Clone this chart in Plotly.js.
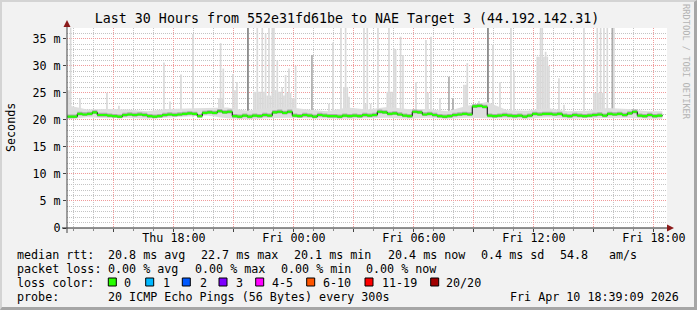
<!DOCTYPE html>
<html><head><meta charset="utf-8">
<script src="https://cdn.plot.ly/plotly-3.0.1.min.js"></script>
<style>
html,body{margin:0;padding:0;background:#f2f2f2;}
#wrap{position:relative;width:697px;height:310px;overflow:hidden;background:#f2f2f2;}
#chart{position:absolute;left:0;top:0;width:697px;height:310px;}
#frame{position:absolute;left:0;top:0;width:697px;height:310px;box-sizing:border-box;border-top:2px solid #d4d4d4;border-left:2px solid #d4d4d4;border-right:3px solid #a6a6a6;border-bottom:3px solid #a6a6a6;pointer-events:none;}
</style></head>
<body><div id="wrap"><div id="chart"></div><div id="frame"></div></div>
<script>
// ---------------- data ----------------
const titleText = 'Last 30 Hours from 552e31fd61be to NAE Target 3 (44.192.142.31)';
const rangeStart = '2026-04-09 12:39:09';
const rangeEnd = '2026-04-10 18:39:09';
const medianStart = '2026-04-09T12:40:00';
const medianStepMin = 15;
const medianRtt = [
 20.6,20.6,21.1,21.0,21.1,21.4,20.9,20.9,20.8,20.7,
 20.6,20.9,21.0,20.9,21.0,20.9,20.7,20.6,20.7,20.9,
 21.0,20.9,21.0,21.1,21.2,21.1,20.7,21.3,21.4,21.3,
 21.6,21.4,21.5,20.7,20.6,20.8,20.6,20.8,20.7,20.9,
 20.8,21.4,21.5,21.3,21.5,20.8,20.7,20.9,20.8,20.6,
 20.9,20.8,20.7,20.7,20.6,20.8,20.7,20.8,20.7,20.9,
 20.8,20.9,21.5,21.4,21.1,21.2,21.0,20.8,20.7,21.5,
 21.4,21.0,21.1,20.9,20.7,20.6,20.7,20.9,21.0,21.1,
 21.0,22.5,22.6,22.4,20.8,20.7,20.8,20.9,20.8,20.7,
 20.8,20.6,20.8,21.1,21.0,21.1,21.1,21.0,21.1,20.8,
 20.7,20.9,20.8,20.7,20.8,20.9,21.0,20.8,21.1,21.0,
 21.1,20.9,21.2,21.5,20.8,20.7,20.9,20.7,20.8,20.7
];
// hourly envelope of the ordinary smoke (lowest ping / upper edge of the fuzz)
const smokeTimes = [
 '2026-04-09 12:40','2026-04-09 13:40','2026-04-09 14:40','2026-04-09 15:40','2026-04-09 16:40',
 '2026-04-09 17:40','2026-04-09 18:40','2026-04-09 19:40','2026-04-09 20:40','2026-04-09 21:40',
 '2026-04-09 22:40','2026-04-09 23:40','2026-04-10 00:40','2026-04-10 01:40','2026-04-10 02:40',
 '2026-04-10 03:40','2026-04-10 04:40','2026-04-10 05:40','2026-04-10 06:40','2026-04-10 07:40',
 '2026-04-10 08:40','2026-04-10 09:40','2026-04-10 10:40','2026-04-10 11:40','2026-04-10 12:40',
 '2026-04-10 13:40','2026-04-10 14:40','2026-04-10 15:40','2026-04-10 16:40','2026-04-10 17:40',
 '2026-04-10 18:25'
];
const smokeLow = [20.1,20.5,20.3,20.4,20.2,20.4,20.6,20.8,20.3,20.1,20.3,20.4,20.3,20.2,20.2,
 20.3,20.4,20.2,20.4,20.2,20.4,20.3,20.3,20.2,20.5,20.2,20.3,20.4,20.4,20.2,20.2];
const smokeHigh = [22.7,21.9,22.0,21.9,21.6,22.0,22.1,22.2,22.3,21.7,22.2,22.4,21.9,21.6,22.3,
 21.9,22.4,22.0,22.0,21.6,22.6,23.3,21.8,21.7,22.2,21.6,21.7,22.2,22.0,21.6,21.6];
// individual high pings (smoke spikes)
const spikeTimes = [
 '2026-04-09 12:40','2026-04-09 12:45','2026-04-09 12:50','2026-04-09 13:18','2026-04-09 14:39',
 '2026-04-09 15:15','2026-04-09 17:30','2026-04-09 17:48','2026-04-09 18:21','2026-04-09 18:57',
 '2026-04-09 20:15','2026-04-09 20:20','2026-04-09 20:25','2026-04-09 20:28','2026-04-09 20:57',
 '2026-04-09 21:03','2026-04-09 21:09','2026-04-09 21:42','2026-04-09 22:00','2026-04-09 22:05',
 '2026-04-09 22:10','2026-04-09 22:15','2026-04-09 22:20','2026-04-09 22:25','2026-04-09 22:30',
 '2026-04-09 22:35','2026-04-09 22:40','2026-04-09 22:45','2026-04-09 22:50','2026-04-09 22:55',
 '2026-04-09 23:00','2026-04-09 23:05','2026-04-09 23:10','2026-04-09 23:15','2026-04-09 23:20',
 '2026-04-09 23:25','2026-04-09 23:30','2026-04-09 23:35','2026-04-09 23:40','2026-04-09 23:45',
 '2026-04-09 23:50','2026-04-09 23:55','2026-04-10 00:00','2026-04-10 00:05','2026-04-10 00:54',
 '2026-04-10 01:45','2026-04-10 01:57','2026-04-10 02:21','2026-04-10 02:30','2026-04-10 02:35',
 '2026-04-10 02:40','2026-04-10 02:45','2026-04-10 03:30','2026-04-10 03:35','2026-04-10 03:40',
 '2026-04-10 03:50','2026-04-10 04:12','2026-04-10 04:40','2026-04-10 04:45','2026-04-10 04:50',
 '2026-04-10 04:55','2026-04-10 05:00','2026-04-10 05:05','2026-04-10 05:20','2026-04-10 05:27',
 '2026-04-10 06:06','2026-04-10 06:36','2026-04-10 06:42','2026-04-10 06:51','2026-04-10 07:18',
 '2026-04-10 07:45','2026-04-10 07:57','2026-04-10 08:30','2026-04-10 08:36','2026-04-10 08:40',
 '2026-04-10 09:15','2026-04-10 09:42','2026-04-10 09:57','2026-04-10 10:18','2026-04-10 10:51',
 '2026-04-10 11:00','2026-04-10 12:10','2026-04-10 12:15','2026-04-10 12:20','2026-04-10 12:25',
 '2026-04-10 12:30','2026-04-10 12:35','2026-04-10 12:40','2026-04-10 12:45','2026-04-10 13:15',
 '2026-04-10 13:30','2026-04-10 14:30','2026-04-10 15:00','2026-04-10 15:05','2026-04-10 15:10',
 '2026-04-10 15:15','2026-04-10 15:20','2026-04-10 15:25','2026-04-10 15:30','2026-04-10 15:40',
 '2026-04-10 15:55','2026-04-10 16:00','2026-04-10 16:54'
];
const spikeMax = [
 25.5,25.5,38,23.9,25.0, 22.6,30.6,23.4,28.4,35.9,
 24.0,34.2,24.0,29.5,28.5, 25.5,27.0,38,25.2,25.2,
 38,25.2,25.2,38,25.2, 36,24.5,38,24.5,38,
 37.5,25.5,31,25.2,25.2, 26,24.5,28.3,25,29.5,
 25,24,24,30,32, 23,34.3,38,26.1,38,
 26.1,24.3,38,23,38, 23,38,25.2,38,25.2,
 25.2,33.2,33,35.4,32, 27,34.8,25,35.4,24,
 28,24,26.5,26.5,30.5, 23.5,38,33.9,27,38,
 29,31.7,31.7,38,38, 31.7,32.6,31.7,30,27.7,
 22.8,38,25,25,38, 25,38,25,38,38,
 38,37,21.9
];
const spikeShade = [
 'l','l','l','l','l', 'l','l','l','l','l',
 'l','l','l','l','l', 'l','l','d','l','l',
 'l','l','l','l','l', 'l','l','l','l','l',
 'l','l','l','l','l', 'l','l','l','l','l',
 'l','l','l','l','m', 'l','l','l','l','l',
 'l','l','l','l','l', 'l','l','l','l','l',
 'l','l','l','l','l', 'l','l','l','l','l',
 'm','m','l','l','l', 'l','d','l','l','l',
 'l','l','l','l','l', 'l','l','l','l','l',
 'l','l','l','l','l', 'l','l','l','l','l',
 'm','l','d'
];
const xTickVals = ['2026-04-09 15:00','2026-04-09 18:00','2026-04-09 21:00','2026-04-10 00:00',
 '2026-04-10 03:00','2026-04-10 06:00','2026-04-10 09:00','2026-04-10 12:00','2026-04-10 15:00','2026-04-10 18:00'];
const xTickText = ['','Thu 18:00','','Fri 00:00','','Fri 06:00','','Fri 12:00','','Fri 18:00'];
const yTickVals = [0,5,10,15,20,25,30,35];
const yTickText = ['0','5 m','10 m','15 m','20 m','25 m','30 m','35 m'];
const statLine1 = [['median rtt:',16],['20.8 ms avg',107],['22.7 ms max',200],['20.1 ms min',293],
 ['20.4 ms now',386.7],['0.4 ms sd',479.3],['54.8',558.3],['am/s',607.7]];
const statLine2 = [['packet loss:',16],['0.00 % avg',107],['0.00 % max',193.3],['0.00 % min',279.3],['0.00 % now',365]];
const lossLabels = ['0','1','2','3','4-5','6-10','11-19','20/20'];
const lossColors = ['#26ff00','#00b8ff','#0059ff','#7e00ff','#ff00ff','#ff5500','#ff0000','#a10000'];
const lossBoxX = [108.3,145.7,182.3,219,255.7,306.7,365,430.7];
const lossTextX = [123,161.7,199,235,271,321.7,380.7,445];
const probeText = '20 ICMP Echo Pings (56 Bytes) every 300s';
const stampText = 'Fri Apr 10 18:39:09 2026';
const creditText = 'RRDTOOL / TOBI OETIKER';

// ---------------- build ----------------
const L=67, R=667, T=28, B=228;
const px = x => (x-L)/(R-L);
const py = y => (B-y)/(B-T);
const FONT = 'DejaVu Sans Mono, monospace';

const t0 = new Date(medianStart+'Z').getTime();
const fmt = ms => new Date(ms).toISOString().slice(0,19).replace('T',' ');
const medianTimes = medianRtt.map((_,i)=>fmt(t0 + i*medianStepMin*60000));

const shadeColor = {l:'#d9d9d9', m:'#ababab', d:'#808080'};
const spikeBase = 20.5;

const traces = [
 {type:'bar', x:spikeTimes, y:spikeMax.map(v=>v-spikeBase), base:spikeBase, width:300000,
  marker:{color:spikeShade.map(s=>shadeColor[s]), line:{width:0}}, hoverinfo:'skip'},
 {type:'scatter', mode:'lines', x:smokeTimes, y:smokeLow, line:{width:0,color:'rgba(0,0,0,0)'}, hoverinfo:'skip'},
 {type:'scatter', mode:'lines', x:smokeTimes, y:smokeHigh, fill:'tonexty', fillcolor:'#dedede', line:{width:0,color:'rgba(0,0,0,0)'}, hoverinfo:'skip'},
 {type:'scatter', mode:'lines', x:medianTimes, y:medianRtt.map(v=>v-0.3), line:{width:0,shape:'hv',color:'rgba(0,0,0,0)'}, hoverinfo:'skip'},
 {type:'scatter', mode:'lines', x:medianTimes, y:medianRtt.map(v=>v+0.4), fill:'tonexty', fillcolor:'#ababab', line:{width:0,shape:'hv',color:'rgba(0,0,0,0)'}, hoverinfo:'skip'},
 {type:'scatter', mode:'lines', x:medianTimes, y:medianRtt, line:{width:1,shape:'hv',color:'#000'}, hoverinfo:'skip'},
 {type:'scatter', mode:'lines', x:medianTimes, y:medianRtt.map(v=>v-0.2), line:{width:0,shape:'hv',color:'rgba(0,0,0,0)'}, hoverinfo:'skip'},
 {type:'scatter', mode:'lines', x:medianTimes, y:medianRtt.map(v=>v+0.2), fill:'tonexty', fillcolor:lossColors[0], line:{width:0,shape:'hv',color:'rgba(0,0,0,0)'}, hoverinfo:'skip'}
];

const ann = [];
const txt = (s,x,y,extra) => ann.push(Object.assign({text:s.replace(/ /g,'\u00a0'), xref:'paper', yref:'paper', x:px(x), y:py(y),
  xanchor:'left', yanchor:'middle', showarrow:false, font:{family:FONT,size:11.7,color:'#000'}}, extra||{}));
statLine1.forEach(([s,x])=>txt(s,x-0.7,254.5));
statLine2.forEach(([s,x])=>txt(s,x-0.7,268.5));
txt('loss color:',16-0.7,282.5);
lossLabels.forEach((s,i)=>txt(s,lossTextX[i]-0.7,282.5));
txt('probe:',16-0.7,296.5);
txt(probeText,107-0.7,296.5);
txt(stampText,681,296.5,{xanchor:'right'});
ann.push({text:'Seconds', xref:'paper', yref:'paper', x:px(10.5), y:py(127.5), xanchor:'center', yanchor:'middle',
  textangle:-90, showarrow:false, font:{family:FONT,size:11.7,color:'#000'}});
ann.push({text:creditText.replace(/ /g,'\u00a0'), xref:'paper', yref:'paper', x:px(686), y:py(62), xanchor:'center', yanchor:'middle',
  textangle:90, showarrow:false, font:{family:FONT,size:8.7,color:'#b4b4b4'}});

const shapes = [];
lossColors.forEach((c,i)=>shapes.push({type:'rect', xref:'paper', yref:'paper', x0:px(lossBoxX[i]), x1:px(lossBoxX[i]+8), y0:py(286), y1:py(278),
  fillcolor:c, line:{color:'#000',width:1}}));
// axes with arrows
shapes.push({type:'line', xref:'paper', yref:'paper', x0:px(62), x1:px(669), y0:py(228), y1:py(228), line:{color:'#222',width:1}});
shapes.push({type:'line', xref:'paper', yref:'paper', x0:px(67), x1:px(67), y0:py(233), y1:py(25), line:{color:'#444',width:1}});
shapes.push({type:'path', xref:'paper', yref:'paper', path:`M ${px(67)} ${py(20)} L ${px(63.5)} ${py(27)} L ${px(70.5)} ${py(27)} Z`, fillcolor:'#8b1a1a', line:{width:0}});
shapes.push({type:'path', xref:'paper', yref:'paper', path:`M ${px(674)} ${py(228)} L ${px(667)} ${py(224.5)} L ${px(667)} ${py(231.5)} Z`, fillcolor:'#8b1a1a', line:{width:0}});

const layout = {
 width:697, height:310,
 paper_bgcolor:'rgba(0,0,0,0)', plot_bgcolor:'#ffffff',
 margin:{l:L, r:697-R, t:T, b:310-B, pad:0},
 showlegend:false, barmode:'overlay',
 font:{family:FONT, size:11.7, color:'#000'},
 title:{text:titleText, font:{family:FONT,size:13.3,color:'#000'}, xref:'container', yref:'container',
   x:347/697, xanchor:'center', y:1-18/310, yanchor:'middle'},
 xaxis:{type:'date', range:[rangeStart,rangeEnd], tickmode:'array', tickvals:xTickVals, ticktext:xTickText,
   showgrid:true, gridcolor:'#f09a9a', griddash:'1px,1px', gridwidth:1, zeroline:false, showline:false,
   ticks:'outside', ticklen:3, tickcolor:'#444', tickwidth:1, tickfont:{family:FONT,size:11.7},
   ticklabelstandoff:-4,
   minor:{tickmode:'linear', tick0:'2026-04-09 13:00', dtick:3600000, showgrid:true, gridcolor:'#c4c4c4',
     griddash:'1px,1px', gridwidth:1, ticks:'outside', ticklen:2, tickcolor:'#888'},
   fixedrange:true},
 yaxis:{range:[0,37], tickmode:'array', tickvals:yTickVals, ticktext:yTickText,
   showgrid:true, gridcolor:'#f09a9a', griddash:'1px,1px', gridwidth:1, zeroline:false, showline:false,
   ticks:'outside', ticklen:3, tickcolor:'#444', tickfont:{family:FONT,size:11.7},
   minor:{tickmode:'linear', tick0:0, dtick:1, showgrid:true, gridcolor:'#c4c4c4', griddash:'1px,1px', gridwidth:1},
   fixedrange:true},
 annotations:ann, shapes:shapes
};
Plotly.newPlot('chart', traces, layout, {staticPlot:true, displayModeBar:false});
</script></body></html>
